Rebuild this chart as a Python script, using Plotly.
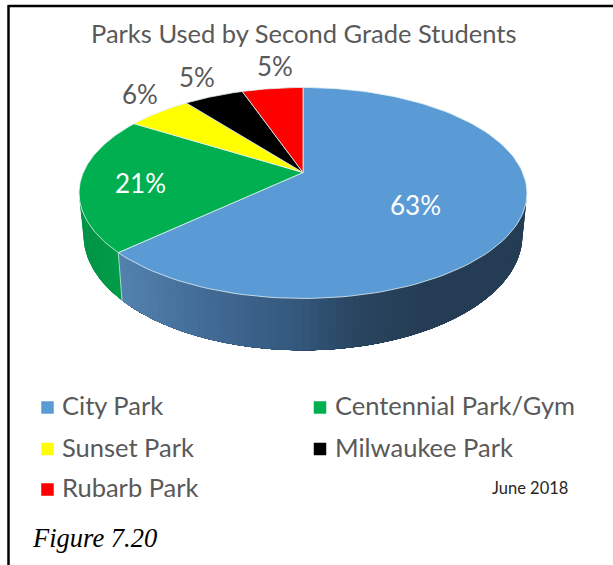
import math
import plotly.graph_objects as go

# ---- data ----
CATEGORIES = ["City Park", "Centennial Park/Gym", "Sunset Park", "Milwaukee Park", "Rubarb Park"]
VALUES = [63.0, 20.9, 5.6, 5.2, 5.3]
COLORS = ["#5B9BD5", "#00B050", "#FFFF00", "#000000", "#FF0000"]
TITLE = "Parks Used by Second Grade Students"
NOTE = "June 2018"
FIG_LABEL = "Figure 7.20"

# ---- geometry of the perspective pie (pixels) ----
CX, CY = 303.0, 172.5
A, B, K = 219.7, 101.5, 0.194
BOTTOM_SX, BOTTOM_SY, BOTTOM_DY = 0.98, 1.09, 40.5
SANS = "Lato"
GREY = "#595959"

LABEL_POS = [(415, 205), (140, 183), (140, 94), (197, 77), (275, 66)]
LABEL_COL = ["white", "white", GREY, GREY, GREY]
LEG_POS = [(47.5, 407.5), (320, 407.5), (47.5, 449), (320, 449), (47.5, 489.5)]


def top(theta):
    x, y = math.sin(theta), math.cos(theta)
    w = 1 + K * y
    return CX + A * x / w, CY - B * y / w


def bottom(theta):
    x, y = math.sin(theta), math.cos(theta)
    w = 1 + K * y
    return CX + BOTTOM_SX * A * x / w, CY - BOTTOM_SY * B * y / w + BOTTOM_DY


def arc(f, a0, a1, n):
    return [f(a0 + (a1 - a0) * i / n) for i in range(n + 1)]


def lerp_stops(stops, x):
    if x <= stops[0][0]:
        return stops[0][1]
    for (x0, c0), (x1, c1) in zip(stops, stops[1:]):
        if x <= x1:
            t = (x - x0) / (x1 - x0)
            return tuple(c0[i] + (c1[i] - c0[i]) * t for i in range(3))
    return stops[-1][1]


BLUE_SIDE = [(122, (84, 130, 175)), (210, (66, 107, 150)), (300, (52, 88, 125)),
             (360, (41, 69, 97)), (430, (37, 61, 84))]
GREEN_SIDE = [(80, (2, 146, 70)), (122, (2, 158, 74))]

fig = go.Figure()


def band(a0, a_end, stops, name):
    """Side wall from a0 all the way to a_end; later bands paint over earlier ones."""
    p = arc(top, a0, a_end, 80)
    q = arc(bottom, a0, a_end, 80)
    poly = p + q[::-1] + [p[0]]
    xm = (p[0][0] + q[0][0]) / 2
    c = lerp_stops(stops, xm)
    col = "rgb(%d,%d,%d)" % tuple(round(v) for v in c)
    fig.add_trace(go.Scatter(x=[v[0] for v in poly], y=[v[1] for v in poly], mode="lines",
                             fill="toself", fillcolor=col, line=dict(width=0),
                             hoverinfo="skip", showlegend=False, name=name))


total = sum(VALUES)
boundaries = [0.0]
for v in VALUES:
    boundaries.append(boundaries[-1] + v / total * 2 * math.pi)

# silhouette of the disc: where the projected x is largest
sil_r = math.acos(-K)
sil_l = 2 * math.pi - sil_r
seam = boundaries[1]

n_blue = 70
for i in range(n_blue):
    band(sil_r + (seam - sil_r) * i / n_blue, seam, BLUE_SIDE, CATEGORIES[0])
n_green = 10
for i in range(n_green):
    band(sil_l + (seam - sil_l) * i / n_green, seam, GREEN_SIDE, CATEGORIES[1])

# light seam on the side
p, q = top(seam), bottom(seam)
fig.add_trace(go.Scatter(x=[p[0], q[0]], y=[p[1], q[1]], mode="lines",
                         line=dict(color="rgba(190,235,225,0.85)", width=1),
                         hoverinfo="skip", showlegend=False))

# top surface wedges
for i, cat in enumerate(CATEGORIES):
    a0, a1 = boundaries[i], boundaries[i + 1]
    pts = [(CX, CY)] + arc(top, a0, a1, 120) + [(CX, CY)]
    fig.add_trace(go.Scatter(x=[v[0] for v in pts], y=[v[1] for v in pts], mode="lines", fill="toself",
                             fillcolor=COLORS[i], line=dict(color="rgba(225,240,240,0.8)", width=1),
                             name=cat, showlegend=False, hoverinfo="name"))

# legend swatches
for (lx, ly), col, cat in zip(LEG_POS, COLORS, CATEGORIES):
    fig.add_trace(go.Scatter(x=[lx], y=[ly], mode="markers",
                             marker=dict(symbol="square", size=12.5, color=col),
                             showlegend=False, name=cat, hoverinfo="name"))


def text(x, y, s, size, color, family=SANS, anchor="left", italic=False):
    fig.add_annotation(x=x, y=y, xref="x", yref="y", text=("<i>%s</i>" % s) if italic else s,
                       showarrow=False, xanchor=anchor, yanchor="middle",
                       font=dict(size=size, color=color, family=family))


text(304, 33, TITLE, 25.5, GREY, anchor="center")
for (lx, ly), col, v in zip(LABEL_POS, LABEL_COL, VALUES):
    text(lx, ly, "%d%%" % round(v / total * 100), 26, col, anchor="center")
for (lx, ly), cat in zip(LEG_POS, CATEGORIES):
    text(lx + 12.5, ly - 2.5, cat, 25.5, GREY)
text(570, 488, NOTE, 16.5, "#262626", anchor="right")
text(30, 538, FIG_LABEL, 26.5, "#000000", family="Liberation Serif", italic=True)

fig.update_layout(
    width=613, height=565, margin=dict(l=0, r=0, t=0, b=0),
    paper_bgcolor="white", plot_bgcolor="white", showlegend=False,
    xaxis=dict(range=[0, 613], visible=False, fixedrange=True),
    yaxis=dict(range=[565, 0], visible=False, fixedrange=True),
    shapes=[
        dict(type="line", xref="x", yref="y", x0=8.5, x1=8.5, y0=5, y1=565, line=dict(color="black", width=2.5)),
        dict(type="line", xref="x", yref="y", x0=8.5, x1=613, y0=6, y1=6, line=dict(color="black", width=2.5)),
    ],
)

fig.write_html("out.html", config={"displayModeBar": False},
               post_script="document.body.style.margin='0';document.body.style.overflow='hidden';")
